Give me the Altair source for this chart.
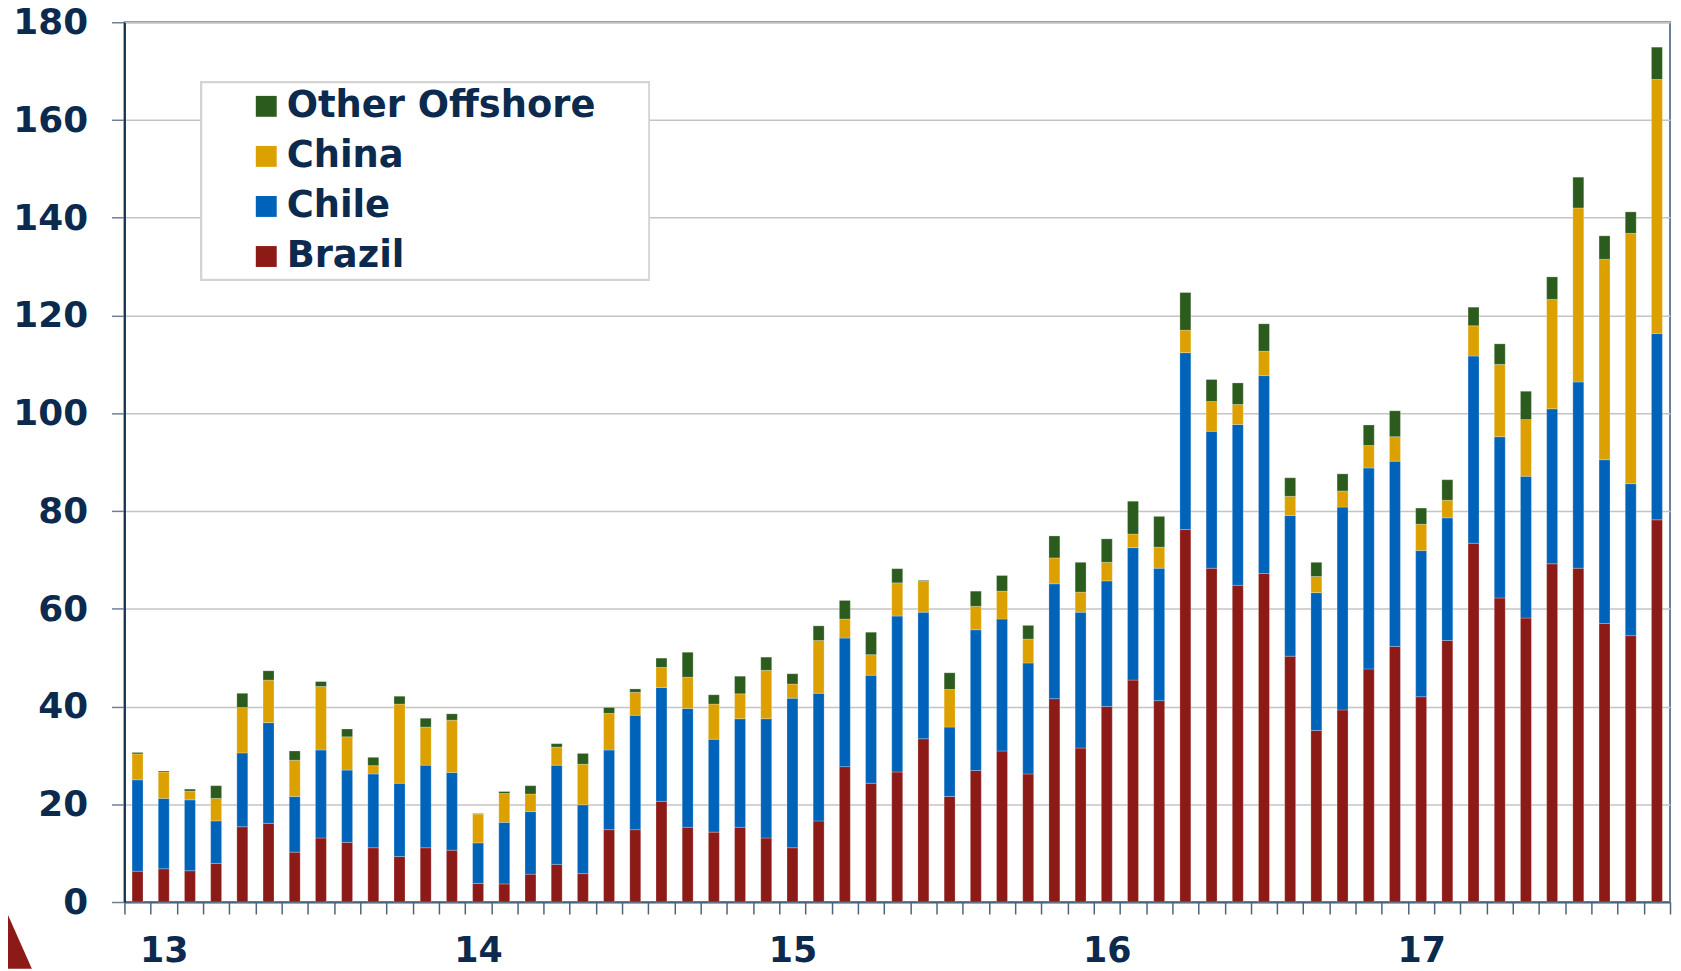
import altair as alt
import pandas as pd

# Monthly categories, Jan 2013 .. Nov 2017
months = [f"{y}-{m:02d}" for y in range(2013, 2018) for m in range(1, 13)][:59]

brazil = [6.3, 6.8, 6.4, 7.9, 15.4, 16.1, 10.2, 13.1, 12.2, 11.1, 9.3, 11.1,
          10.6, 3.8, 3.7, 5.7, 7.7, 5.8, 14.8, 14.8, 20.6, 15.3, 14.3, 15.3,
          13.1, 11.1, 16.6, 27.7, 24.3, 26.6, 33.4, 21.6, 26.9, 30.9, 26.2, 41.6,
          31.5, 40.0, 45.4, 41.2, 76.2, 68.3, 64.8, 67.2, 50.3, 35.1, 39.3, 47.7,
          52.3, 42.0, 53.5, 73.4, 62.2, 58.1, 69.2, 68.3, 57.0, 54.5, 78.2]
chile = [18.7, 14.4, 14.5, 8.7, 15.1, 20.6, 11.4, 18.0, 14.8, 15.1, 15.0, 16.9,
         15.9, 8.3, 12.6, 12.8, 20.3, 14.1, 16.3, 23.4, 23.3, 24.3, 19.0, 22.2,
         24.4, 30.6, 26.1, 26.3, 22.1, 31.9, 25.9, 14.2, 28.8, 27.0, 22.7, 23.5,
         27.8, 25.7, 27.1, 27.1, 36.2, 28.0, 32.9, 40.5, 28.8, 28.2, 41.5, 41.1,
         37.9, 29.9, 25.1, 38.3, 33.0, 29.0, 31.7, 38.1, 33.5, 31.1, 38.1]
china = [5.3, 5.4, 1.8, 4.6, 9.3, 8.7, 7.4, 13.0, 6.8, 1.7, 16.2, 7.8,
         10.7, 5.9, 5.9, 3.6, 3.7, 8.3, 7.5, 4.7, 4.1, 6.4, 7.2, 5.1,
         9.9, 2.9, 10.8, 3.9, 4.2, 6.8, 6.3, 7.7, 4.8, 5.7, 4.9, 5.3,
         4.1, 3.8, 2.8, 4.3, 4.6, 6.1, 4.1, 5.0, 3.9, 3.3, 3.3, 4.6,
         5.0, 5.4, 3.6, 6.2, 14.8, 11.6, 22.4, 35.6, 41.0, 51.2, 52.0]
other = [0.3, 0.2, 0.4, 2.6, 2.9, 1.9, 1.9, 1.0, 1.6, 1.7, 1.6, 1.8,
         1.3, 0.1, 0.4, 1.7, 0.7, 2.2, 1.2, 0.7, 1.9, 5.1, 1.9, 3.6,
         2.7, 2.1, 3.0, 3.8, 4.6, 2.9, 0.2, 3.4, 3.1, 3.2, 2.8, 4.5,
         6.1, 4.8, 6.7, 6.3, 7.7, 4.5, 4.4, 5.6, 3.8, 2.9, 3.5, 4.2,
         5.3, 3.3, 4.2, 3.8, 4.2, 5.8, 4.6, 6.3, 4.8, 4.4, 6.6]

stack_series = ["Brazil", "Chile", "China", "Other Offshore"]
legend_series = ["Other Offshore", "China", "Chile", "Brazil"]
legend_colors = ["#2c5b1e", "#dca100", "#0063ba", "#8c1a17"]

rows = []
for i, mth in enumerate(months):
    for k, (name, vals) in enumerate(zip(stack_series, [brazil, chile, china, other])):
        rows.append({"month": mth, "series": name, "value": vals[i], "order": k})
df = pd.DataFrame(rows)

TEXT = "#0b2a4e"
FONT = "DejaVu Sans"

bars = alt.Chart(df).mark_bar(width=11, stroke="white", strokeWidth=0.4, strokeOpacity=0.6).encode(
    x=alt.X(
        "month:N",
        sort=months,
        scale=alt.Scale(paddingInner=0, paddingOuter=0),
        axis=alt.Axis(
            title=None,
            tickBand="extent",
            labelExpr="substring(datum.value, 5, 7) == '02' ? substring(datum.value, 2, 4) : ''",
            labelOverlap=False,
            labelAngle=0,
            labelFont=FONT,
            labelFontSize=35,
            labelFontWeight="bold",
            labelColor=TEXT,
            labelBaseline="alphabetic",
            labelPadding=48,
            tickSize=12,
            tickWidth=1.5,
            tickColor="#4d637b",
            domainColor="#4d637b",
            domainWidth=2,
            grid=False,
        ),
    ),
    y=alt.Y(
        "value:Q",
        stack="zero",
        scale=alt.Scale(domain=[0, 180], nice=False),
        axis=alt.Axis(
            title=None,
            values=list(range(0, 181, 20)),
            labelFont=FONT,
            labelFontSize=36,
            labelFontWeight="bold",
            labelColor=TEXT,
            labelPadding=24,
            labelOffset=0.5,
            tickSize=13,
            tickWidth=1.5,
            tickColor="#6b8096",
            domainColor="#1a3150",
            domainWidth=2,
            grid=True,
            gridColor="#c4c4c4",
            gridWidth=1.5,
        ),
    ),
    color=alt.Color(
        "series:N",
        scale=alt.Scale(domain=legend_series, range=legend_colors),
        legend=alt.Legend(
            title=None,
            orient="none",
            legendX=124,
            legendY=66,
            padding=0,
            symbolType="square",
            symbolSize=441,
            symbolStrokeWidth=0,
            symbolOpacity=1,
            labelFont=FONT,
            labelFontSize=37,
            labelFontWeight="bold",
            labelColor=TEXT,
            labelOffset=2,
            rowPadding=12.3,
            labelLimit=500,
        ),
    ),
    order=alt.Order("order:Q", sort="ascending"),
)

legend_box = alt.Chart(df).mark_rect(
    fill="white", stroke="#d4d4d4", strokeWidth=1.5
).encode(
    x=alt.value(77.5), x2=alt.value(527), y=alt.value(60.5), y2=alt.value(258.5)
)

# slide-template decoration in the bottom-left corner
corner = alt.Chart(pd.DataFrame({"d": [0]})).mark_point(
    shape="M -0.444 -1 L 0.444 1 L -0.444 1 Z", filled=True, opacity=1,
    color="#8c1a17", size=5184, strokeWidth=0
).encode(x=alt.value(-109), y=alt.value(915))

chart = alt.layer(legend_box, corner, bars).properties(
    width=1553,
    height=884,
    autosize=alt.AutoSizeParams(type="none"),
    padding={"left": 117, "top": 12, "right": 3, "bottom": 66},
).configure_view(stroke="#6b8096", strokeWidth=2)

chart.save("out.html", embed_options={"renderer": "svg", "actions": False})
